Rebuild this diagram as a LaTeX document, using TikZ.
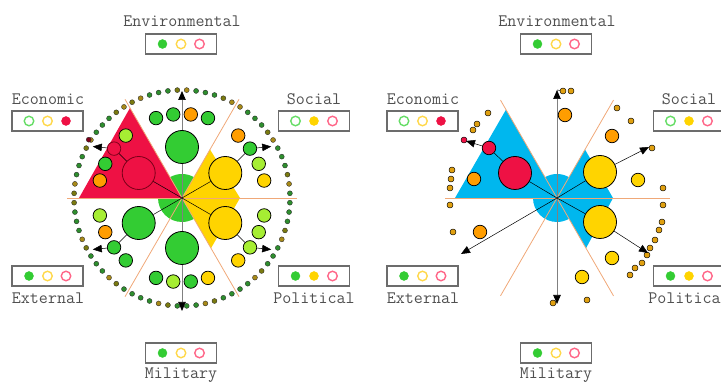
\documentclass[tikz,border=0pt]{standalone}
\usepackage{fontspec}
\usepackage{graphicx}
\usetikzlibrary{arrows.meta,calc}
\definecolor{cgreen}{HTML}{33CC33}
\definecolor{clgreen}{HTML}{A6EE33}
\definecolor{cyellow}{HTML}{FFD400}
\definecolor{cred}{HTML}{EE1144}
\definecolor{cdred}{HTML}{7A0018}
\definecolor{corange}{HTML}{FF9D00}
\definecolor{wblue}{HTML}{00B7EE}
\definecolor{sline}{HTML}{F0A878}
\definecolor{ringA}{HTML}{2E8E2E}
\definecolor{ringB}{HTML}{7A7A10}
\definecolor{ringC}{HTML}{A88A18}
\definecolor{sdot}{HTML}{E0A010}
\definecolor{hgreen}{HTML}{66DD66}
\definecolor{hyellow}{HTML}{FFD84A}
\definecolor{hred}{HTML}{FF6688}
\definecolor{labgray}{HTML}{505050}
\tikzset{
  bigc/.style={circle, draw=black, line width=0.8pt, minimum size=33pt, inner sep=0pt},
  medc/.style={circle, draw=black, line width=0.75pt, minimum size=13.5pt, inner sep=0pt},
  rdot/.style={circle, draw=black!85, line width=0.35pt, minimum size=5pt, inner sep=0pt},
  sdotc/.style={circle, draw=black, line width=0.45pt, minimum size=6pt, inner sep=0pt, fill=sdot},
  sectorline/.style={draw=sline, line width=0.8pt},
  grayline/.style={draw=gray, line width=0.7pt},
  conn/.style={draw=black, line width=0.5pt},
  tipA/.style={-{Triangle[length=9pt,width=7.5pt,color=black]}},
  lbox/.style={draw=gray!85!black, line width=1.1pt, minimum width=71pt, minimum height=20pt, inner sep=0pt, fill=white},
  lf/.style={circle, inner sep=0pt, minimum size=9pt, fill=#1, draw=#1},
  lh/.style={circle, inner sep=0pt, minimum size=9.5pt, draw=#1, line width=1.4pt, fill=white},
  ltext/.style={font=\ttfamily\fontsize{17.5}{17.5}\selectfont, text=labgray, inner sep=0pt},
}
% #1 name, #2 x, #3 y, #4/#5/#6: f or h for green/yellow/red
\newcommand{\lgbox}[6]{%
  \node[lbox] (#1) at (#2,#3) {};
  \node[l#4=\ifx f#4cgreen\else hgreen\fi] (#1g) at ($(#1)+(-18.5,0)$) {};
  \node[l#5=\ifx f#5cyellow\else hyellow\fi] (#1y) at (#1) {};
  \node[l#6=\ifx f#6cred\else hred\fi] (#1r) at ($(#1)+(18.5,0)$) {};
}
\begin{document}
\begin{tikzpicture}[x=1pt,y=1pt]
\useasboundingbox (0,0) rectangle (721,385);
\clip (0,0) rectangle (721,385);

%================ LEFT DIAGRAM ================
\begin{scope}[shift={(182,187)}]
\coordinate (cL) at (0,0);
% wedges
\fill[cgreen] (0,0) -- (60:24) arc[start angle=60,end angle=120,radius=24] -- cycle;
\fill[cgreen] (0,0) -- (180:24) arc[start angle=180,end angle=300,radius=24] -- cycle;
\fill[cred] (0,0) -- (120:104) -- (180:103) -- cycle;
\fill[cyellow] (0,0) -- (60:56) -- (0:58) -- (-60:58) -- cycle;
% sector lines
\draw[sectorline] (180:115) -- (0:115);
\foreach \a in {60,120,240,300} \draw[sectorline] (0,0) -- (\a:114);
% vertical axis arrows
\coordinate (LaEnv) at (90:107);
\coordinate (LaMil) at (-90:113);
\draw[grayline,tipA] (cL) -- (LaEnv);
\draw[grayline,tipA] (cL) -- (LaMil);
% ring of dots
\foreach \m [count=\s] in {90,30,-30,-90,-150,150} {
  \foreach \k in {0,...,11} {
    \pgfmathsetmacro\ang{\m-27.5+5*\k}
    \pgfmathtruncatemacro\c{mod(\k*7+\s*3,5)}
    \ifcase\c \def\col{ringB}\or\def\col{ringA}\or\def\col{ringA}\or\def\col{ringC}\or\def\col{ringA}\fi
    \node[rdot,fill=\col] (rL\s-\k) at (\ang:108) {};
  }
}
% Environmental
\node[bigc,fill=cgreen] (LbigEnv) at (90:51) {};
\node[medc,fill=cgreen] (LEnv1) at (108:84) {};
\node[medc,fill=cgreen] (LEnv2) at (96:84) {};
\node[medc,fill=corange] (LEnv3) at (84:84) {};
\node[medc,fill=cgreen] (LEnv4) at (72:84) {};
% Social
\node[bigc,fill=cyellow] (LbigSoc) at (30:50) {};
\node[medc,fill=corange] (LSoc1) at (48:84) {};
\node[medc,fill=cgreen] (LSoc2) at (36:84) {};
\node[medc,fill=clgreen] (LSoc3) at (24:84) {};
\node[medc,fill=cyellow] (LSoc4) at (12:84) {};
% Political
\node[bigc,fill=cyellow] (LbigPol) at (-30:50) {};
\node[medc,fill=clgreen] (LPol1) at (-12:84) {};
\node[medc,fill=clgreen] (LPol2) at (-24:84) {};
\node[medc,fill=clgreen] (LPol3) at (-36:84) {};
\node[medc,fill=cyellow] (LPol4) at (-48:84) {};
% Military
\node[bigc,fill=cgreen] (LbigMil) at (-90:50) {};
\node[medc,fill=cgreen] (LMil1) at (252:84) {};
\node[medc,fill=clgreen] (LMil2) at (264:84) {};
\node[medc,fill=cgreen] (LMil3) at (276:84) {};
\node[medc,fill=cyellow] (LMil4) at (288:84) {};
% External
\node[bigc,fill=cgreen] (LbigExt) at (210:50) {};
\node[medc,fill=clgreen] (LExt1) at (192:84) {};
\node[medc,fill=corange] (LExt2) at (204:84) {};
\node[medc,fill=cgreen] (LExt3) at (216:84) {};
\node[medc,fill=cgreen] (LExt4) at (228:84) {};
% Economic
\node[bigc,fill=cred,draw=cdred] (LbigEco) at (150:50) {};
\node[medc,fill=clgreen] (LEco1) at (132:84) {};
\node[medc,fill=cred,draw=cdred] (LEco2) at (144:84) {};
\node[medc,fill=cgreen] (LEco3) at (156:84) {};
\node[medc,fill=corange] (LEco4) at (168:84) {};
% arrow targets
\coordinate (LaSoc) at (30:103);
\coordinate (LaPol) at (-30:103);
\coordinate (LaExt) at (210:103);
\coordinate (LaEco) at (150:103);
\node[rdot,fill=cdred] (LecoTip) at (148:110) {};
% connectors
\draw[conn] (cL) -- (LbigSoc);
\draw[conn] (LbigSoc) -- (LSoc2);
\draw[conn,tipA] (LSoc2) -- (LaSoc);
\draw[conn] (cL) -- (LbigPol);
\draw[conn] (LbigPol) -- (LPol3);
\draw[conn,tipA] (LPol3) -- (LaPol);
\draw[conn] (cL) -- (LbigExt);
\draw[conn] (LbigExt) -- (LExt3);
\draw[conn,tipA] (LExt3) -- (LaExt);
\draw[conn] (cL) -- (LbigEco);
\draw[conn] (LbigEco) -- (LEco2);
\draw[conn,tipA] (LEco2) -- (LaEco);
\end{scope}

%================ RIGHT DIAGRAM ================
\begin{scope}[shift={(557,187)}]
\coordinate (cR) at (0,0);
\fill[wblue] (0,0) -- (60:24) arc[start angle=60,end angle=120,radius=24] -- cycle;
\fill[wblue] (0,0) -- (180:24) arc[start angle=180,end angle=300,radius=24] -- cycle;
\fill[wblue] (0,0) -- (120:102) -- (180:102) -- cycle;
\fill[wblue] (0,0) -- (60:56) -- (0:56) -- (-60:58) -- cycle;
\draw[sectorline] (180:112) -- (0:113);
\foreach \a in {60,120,240,300} \draw[sectorline] (0,0) -- (\a:113);
\coordinate (RaEnv) at (90:108);
\coordinate (RaMil) at (-90:106);
\draw[grayline,tipA] (cR) -- (RaEnv);
\draw[grayline,tipA] (cR) -- (RaMil);
\end{scope}
% big circles
\node[bigc,fill=cred] (RbigEco) at (515,212) {};
\node[bigc,fill=cyellow] (RbigSoc) at (600,213) {};
\node[bigc,fill=cyellow] (RbigPol) at (600,163) {};
% medium circles
\node[medc,fill=corange] (Rm1) at (565,270) {};
\node[medc,fill=corange] (Rm2) at (612,249) {};
\node[medc,fill=cyellow] (Rm3) at (638,205) {};
\node[medc,fill=cyellow] (Rm4) at (612,127) {};
\node[medc,fill=cyellow] (Rm5) at (582,108) {};
\node[medc,fill=corange] (Rm6) at (480,153) {};
\node[medc,fill=corange] (Rm7) at (474,206) {};
\node[medc,fill=cred] (RmEco) at (489,237) {};
% small dots
\foreach \p [count=\i] in {(488,272),(473,255),(477,261),(452,215),(451,206),(450,197),(450,180),(453,153),(563,294),(571,294),(617,277),(631,264),(652,237),(663,197),(663,180),(662,163),(659,155),(655,145),(650,137),(647,130),(642,122),(635,117),(630,110),(587,85),(553,82)}
  \node[sdotc] (Rs\i) at \p {};
\node[sdotc,fill=cred] (RsEco) at (464,245) {};
% arrow targets
\coordinate (RaEco) at (466,244);
\coordinate (RaSoc) at (649,238);
\coordinate (RaPol) at (648,132);
\coordinate (RaExt) at (461,131);
% connectors
\draw[conn] (cR) -- (RbigEco);
\draw[conn] (RbigEco) -- (RmEco);
\draw[conn,tipA] (RmEco) -- (RaEco);
\draw[conn] (cR) -- (RbigSoc);
\draw[conn,tipA] (RbigSoc) -- (RaSoc);
\draw[conn] (cR) -- (RbigPol);
\draw[conn,tipA] (RbigPol) -- (RaPol);
\draw[conn,tipA] (cR) -- (RaExt);
\draw[conn] (RaEnv) -- (Rs9);

%================ LABELS ================
\foreach \dx/\s in {0/L,375/R} {
  \node[ltext] (\s envT) at (182+\dx,364) {Environmental};
  \lgbox{\s envB}{181+\dx}{341}{f}{h}{h}
  \node[ltext] (\s ecoT) at (48+\dx,286) {Economic};
  \lgbox{\s ecoB}{47.5+\dx}{264}{h}{h}{f}
  \node[ltext] (\s socT) at (314+\dx,286) {Social};
  \lgbox{\s socB}{314+\dx}{264}{h}{f}{h}
  \lgbox{\s extB}{47.5+\dx}{109}{f}{h}{h}
  \node[ltext] (\s extT) at (48+\dx,87) {External};
  \lgbox{\s polB}{314+\dx}{109}{f}{f}{h}
  \node[ltext] (\s polT) at (314+\dx,87) {Political};
  \lgbox{\s milB}{181+\dx}{32}{f}{h}{h}
  \node[ltext] (\s milT) at (181+\dx,10) {Military};
}
\end{tikzpicture}
\end{document}
